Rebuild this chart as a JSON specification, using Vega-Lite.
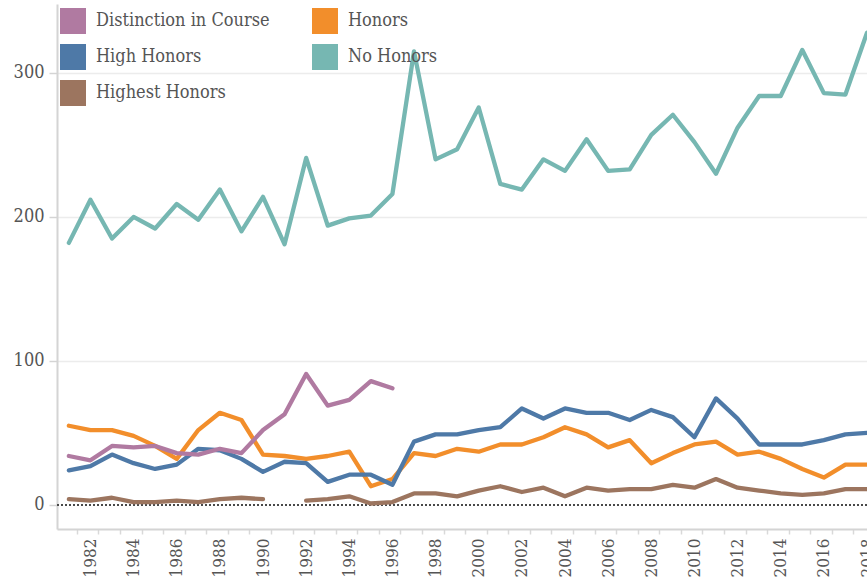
{
  "$schema": "https://vega.github.io/schema/vega-lite/v6.json",
  "width": 810,
  "height": 525,
  "autosize": {"type": "none"},
  "padding": {"left": 57, "top": 4, "right": 0, "bottom": 57},
  "background": "white",
  "config": {
    "view": {"stroke": null},
    "font": "DejaVu Serif Condensed",
    "axis": {"labelFont": "DejaVu Serif Condensed", "labelFontSize": 18, "labelColor": "#555555"},
    "legend": {"labelFont": "DejaVu Serif Condensed"}
  },
  "data": {
    "values": [
      {"year": 1981, "type": "No Honors", "count": 182},
      {"year": 1982, "type": "No Honors", "count": 212},
      {"year": 1983, "type": "No Honors", "count": 185},
      {"year": 1984, "type": "No Honors", "count": 200},
      {"year": 1985, "type": "No Honors", "count": 192},
      {"year": 1986, "type": "No Honors", "count": 209},
      {"year": 1987, "type": "No Honors", "count": 198},
      {"year": 1988, "type": "No Honors", "count": 219},
      {"year": 1989, "type": "No Honors", "count": 190},
      {"year": 1990, "type": "No Honors", "count": 214},
      {"year": 1991, "type": "No Honors", "count": 181},
      {"year": 1992, "type": "No Honors", "count": 241},
      {"year": 1993, "type": "No Honors", "count": 194},
      {"year": 1994, "type": "No Honors", "count": 199},
      {"year": 1995, "type": "No Honors", "count": 201},
      {"year": 1996, "type": "No Honors", "count": 216},
      {"year": 1997, "type": "No Honors", "count": 315},
      {"year": 1998, "type": "No Honors", "count": 240},
      {"year": 1999, "type": "No Honors", "count": 247},
      {"year": 2000, "type": "No Honors", "count": 276},
      {"year": 2001, "type": "No Honors", "count": 223},
      {"year": 2002, "type": "No Honors", "count": 219},
      {"year": 2003, "type": "No Honors", "count": 240},
      {"year": 2004, "type": "No Honors", "count": 232},
      {"year": 2005, "type": "No Honors", "count": 254},
      {"year": 2006, "type": "No Honors", "count": 232},
      {"year": 2007, "type": "No Honors", "count": 233},
      {"year": 2008, "type": "No Honors", "count": 257},
      {"year": 2009, "type": "No Honors", "count": 271},
      {"year": 2010, "type": "No Honors", "count": 252},
      {"year": 2011, "type": "No Honors", "count": 230},
      {"year": 2012, "type": "No Honors", "count": 262},
      {"year": 2013, "type": "No Honors", "count": 284},
      {"year": 2014, "type": "No Honors", "count": 284},
      {"year": 2015, "type": "No Honors", "count": 316},
      {"year": 2016, "type": "No Honors", "count": 286},
      {"year": 2017, "type": "No Honors", "count": 285},
      {"year": 2018, "type": "No Honors", "count": 328},

      {"year": 1981, "type": "Honors", "count": 55},
      {"year": 1982, "type": "Honors", "count": 52},
      {"year": 1983, "type": "Honors", "count": 52},
      {"year": 1984, "type": "Honors", "count": 48},
      {"year": 1985, "type": "Honors", "count": 41},
      {"year": 1986, "type": "Honors", "count": 32},
      {"year": 1987, "type": "Honors", "count": 52},
      {"year": 1988, "type": "Honors", "count": 64},
      {"year": 1989, "type": "Honors", "count": 59},
      {"year": 1990, "type": "Honors", "count": 35},
      {"year": 1991, "type": "Honors", "count": 34},
      {"year": 1992, "type": "Honors", "count": 32},
      {"year": 1993, "type": "Honors", "count": 34},
      {"year": 1994, "type": "Honors", "count": 37},
      {"year": 1995, "type": "Honors", "count": 13},
      {"year": 1996, "type": "Honors", "count": 18},
      {"year": 1997, "type": "Honors", "count": 36},
      {"year": 1998, "type": "Honors", "count": 34},
      {"year": 1999, "type": "Honors", "count": 39},
      {"year": 2000, "type": "Honors", "count": 37},
      {"year": 2001, "type": "Honors", "count": 42},
      {"year": 2002, "type": "Honors", "count": 42},
      {"year": 2003, "type": "Honors", "count": 47},
      {"year": 2004, "type": "Honors", "count": 54},
      {"year": 2005, "type": "Honors", "count": 49},
      {"year": 2006, "type": "Honors", "count": 40},
      {"year": 2007, "type": "Honors", "count": 45},
      {"year": 2008, "type": "Honors", "count": 29},
      {"year": 2009, "type": "Honors", "count": 36},
      {"year": 2010, "type": "Honors", "count": 42},
      {"year": 2011, "type": "Honors", "count": 44},
      {"year": 2012, "type": "Honors", "count": 35},
      {"year": 2013, "type": "Honors", "count": 37},
      {"year": 2014, "type": "Honors", "count": 32},
      {"year": 2015, "type": "Honors", "count": 25},
      {"year": 2016, "type": "Honors", "count": 19},
      {"year": 2017, "type": "Honors", "count": 28},
      {"year": 2018, "type": "Honors", "count": 28},

      {"year": 1981, "type": "High Honors", "count": 24},
      {"year": 1982, "type": "High Honors", "count": 27},
      {"year": 1983, "type": "High Honors", "count": 35},
      {"year": 1984, "type": "High Honors", "count": 29},
      {"year": 1985, "type": "High Honors", "count": 25},
      {"year": 1986, "type": "High Honors", "count": 28},
      {"year": 1987, "type": "High Honors", "count": 39},
      {"year": 1988, "type": "High Honors", "count": 38},
      {"year": 1989, "type": "High Honors", "count": 32},
      {"year": 1990, "type": "High Honors", "count": 23},
      {"year": 1991, "type": "High Honors", "count": 30},
      {"year": 1992, "type": "High Honors", "count": 29},
      {"year": 1993, "type": "High Honors", "count": 16},
      {"year": 1994, "type": "High Honors", "count": 21},
      {"year": 1995, "type": "High Honors", "count": 21},
      {"year": 1996, "type": "High Honors", "count": 14},
      {"year": 1997, "type": "High Honors", "count": 44},
      {"year": 1998, "type": "High Honors", "count": 49},
      {"year": 1999, "type": "High Honors", "count": 49},
      {"year": 2000, "type": "High Honors", "count": 52},
      {"year": 2001, "type": "High Honors", "count": 54},
      {"year": 2002, "type": "High Honors", "count": 67},
      {"year": 2003, "type": "High Honors", "count": 60},
      {"year": 2004, "type": "High Honors", "count": 67},
      {"year": 2005, "type": "High Honors", "count": 64},
      {"year": 2006, "type": "High Honors", "count": 64},
      {"year": 2007, "type": "High Honors", "count": 59},
      {"year": 2008, "type": "High Honors", "count": 66},
      {"year": 2009, "type": "High Honors", "count": 61},
      {"year": 2010, "type": "High Honors", "count": 47},
      {"year": 2011, "type": "High Honors", "count": 74},
      {"year": 2012, "type": "High Honors", "count": 60},
      {"year": 2013, "type": "High Honors", "count": 42},
      {"year": 2014, "type": "High Honors", "count": 42},
      {"year": 2015, "type": "High Honors", "count": 42},
      {"year": 2016, "type": "High Honors", "count": 45},
      {"year": 2017, "type": "High Honors", "count": 49},
      {"year": 2018, "type": "High Honors", "count": 50},

      {"year": 1981, "type": "Distinction in Course", "count": 34},
      {"year": 1982, "type": "Distinction in Course", "count": 31},
      {"year": 1983, "type": "Distinction in Course", "count": 41},
      {"year": 1984, "type": "Distinction in Course", "count": 40},
      {"year": 1985, "type": "Distinction in Course", "count": 41},
      {"year": 1986, "type": "Distinction in Course", "count": 36},
      {"year": 1987, "type": "Distinction in Course", "count": 35},
      {"year": 1988, "type": "Distinction in Course", "count": 39},
      {"year": 1989, "type": "Distinction in Course", "count": 36},
      {"year": 1990, "type": "Distinction in Course", "count": 52},
      {"year": 1991, "type": "Distinction in Course", "count": 63},
      {"year": 1992, "type": "Distinction in Course", "count": 91},
      {"year": 1993, "type": "Distinction in Course", "count": 69},
      {"year": 1994, "type": "Distinction in Course", "count": 73},
      {"year": 1995, "type": "Distinction in Course", "count": 86},
      {"year": 1996, "type": "Distinction in Course", "count": 81},

      {"year": 1981, "type": "Highest Honors", "count": 4},
      {"year": 1982, "type": "Highest Honors", "count": 3},
      {"year": 1983, "type": "Highest Honors", "count": 5},
      {"year": 1984, "type": "Highest Honors", "count": 2},
      {"year": 1985, "type": "Highest Honors", "count": 2},
      {"year": 1986, "type": "Highest Honors", "count": 3},
      {"year": 1987, "type": "Highest Honors", "count": 2},
      {"year": 1988, "type": "Highest Honors", "count": 4},
      {"year": 1989, "type": "Highest Honors", "count": 5},
      {"year": 1990, "type": "Highest Honors", "count": 4},
      {"year": 1991, "type": "Highest Honors", "count": null},
      {"year": 1992, "type": "Highest Honors", "count": 3},
      {"year": 1993, "type": "Highest Honors", "count": 4},
      {"year": 1994, "type": "Highest Honors", "count": 6},
      {"year": 1995, "type": "Highest Honors", "count": 1},
      {"year": 1996, "type": "Highest Honors", "count": 2},
      {"year": 1997, "type": "Highest Honors", "count": 8},
      {"year": 1998, "type": "Highest Honors", "count": 8},
      {"year": 1999, "type": "Highest Honors", "count": 6},
      {"year": 2000, "type": "Highest Honors", "count": 10},
      {"year": 2001, "type": "Highest Honors", "count": 13},
      {"year": 2002, "type": "Highest Honors", "count": 9},
      {"year": 2003, "type": "Highest Honors", "count": 12},
      {"year": 2004, "type": "Highest Honors", "count": 6},
      {"year": 2005, "type": "Highest Honors", "count": 12},
      {"year": 2006, "type": "Highest Honors", "count": 10},
      {"year": 2007, "type": "Highest Honors", "count": 11},
      {"year": 2008, "type": "Highest Honors", "count": 11},
      {"year": 2009, "type": "Highest Honors", "count": 14},
      {"year": 2010, "type": "Highest Honors", "count": 12},
      {"year": 2011, "type": "Highest Honors", "count": 18},
      {"year": 2012, "type": "Highest Honors", "count": 12},
      {"year": 2013, "type": "Highest Honors", "count": 10},
      {"year": 2014, "type": "Highest Honors", "count": 8},
      {"year": 2015, "type": "Highest Honors", "count": 7},
      {"year": 2016, "type": "Highest Honors", "count": 8},
      {"year": 2017, "type": "Highest Honors", "count": 11},
      {"year": 2018, "type": "Highest Honors", "count": 11}
    ]
  },
  "layer": [
    {
      "mark": {"type": "rule", "color": "#4a4a4a", "strokeWidth": 1.3, "strokeDash": [2, 2]},
      "encoding": {"y": {"datum": 0, "type": "quantitative"}}
    },
    {
      "mark": {"type": "line", "strokeWidth": 4.3, "strokeJoin": "round", "strokeCap": "round", "invalid": "break-paths-filter-domains"},
      "encoding": {
        "x": {
          "field": "year",
          "type": "quantitative",
          "scale": {"domain": [1980.45, 2018.0], "nice": false, "zero": false},
          "axis": {
            "title": null,
            "values": [1981,1982,1983,1984,1985,1986,1987,1988,1989,1990,1991,1992,1993,1994,1995,1996,1997,1998,1999,2000,2001,2002,2003,2004,2005,2006,2007,2008,2009,2010,2011,2012,2013,2014,2015,2016,2017,2018],
            "labelExpr": "datum.value % 2 == 0 ? '' + datum.value : ''",
            "labelAngle": -90,
            "labelAlign": "right",
            "labelBaseline": "middle",
            "labelOverlap": false,
            "labelPadding": 4,
            "labelFontSize": 17,
            "labelColor": "#555555",
            "tickOffset": 8,
            "labelOffset": -8,
            "tickSize": 5,
            "tickColor": "#d9d9d9",
            "tickWidth": 1.5,
            "domainColor": "#d4d4d4",
            "domainWidth": 2,
            "grid": false
          }
        },
        "y": {
          "field": "count",
          "type": "quantitative",
          "scale": {"domain": [-16.7, 347.9], "nice": false, "zero": false},
          "axis": {
            "title": null,
            "values": [0, 100, 200, 300, 347.9],
            "labelExpr": "datum.value > 340 ? '' : '' + datum.value",
            "labelFontSize": 18,
            "labelColor": "#555555",
            "labelPadding": 5,
            "tickSize": 8,
            "tickWidth": 1.5,
            "tickColor": {"condition": {"test": "datum.value > 340", "value": "transparent"}, "value": "#d4d4d4"},
            "domainColor": "#d4d4d4",
            "domainWidth": 2,
            "grid": true,
            "gridWidth": 1.5,
            "gridColor": {"condition": {"test": "datum.value > 340 || datum.value == 0", "value": "transparent"}, "value": "#ececec"}
          }
        },
        "color": {
          "field": "type",
          "type": "nominal",
          "scale": {
            "domain": ["Distinction in Course", "High Honors", "Highest Honors", "Honors", "No Honors"],
            "range": ["#b07aa1", "#4e79a7", "#9c755f", "#f28e2b", "#76b7b2"]
          },
          "legend": {
            "title": null,
            "orient": "none",
            "legendX": 3,
            "legendY": 4,
            "columns": 2,
            "padding": 0,
            "rowPadding": 10,
            "columnPadding": 42,
            "symbolType": "square",
            "symbolSize": 676,
            "symbolStrokeWidth": 0,
            "labelFontSize": 18,
            "labelColor": "#555555",
            "labelOffset": 10,
            "labelLimit": 300,
            "encode": {
              "symbols": {"update": {"fill": {"scale": "color", "field": "value"}, "fillOpacity": {"value": 1}, "strokeWidth": {"value": 0}}}
            }
          }
        }
      }
    }
  ]
}
